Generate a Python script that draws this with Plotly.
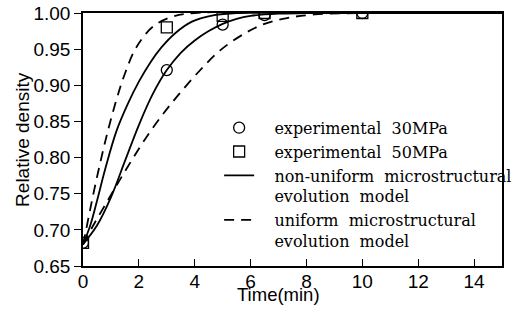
import plotly.graph_objects as go

# Experimental points
exp_t = [0, 3, 5, 6.5, 10]
exp30 = [0.682, 0.921, 0.984, 0.997, 1.0]
exp50 = [0.682, 0.980, 0.996, 1.0, 1.0]

# Non-uniform microstructural evolution model (solid)
nu30_t = [0, 0.5, 1.0, 1.5, 2.0, 2.5, 3.0, 3.5, 4.0, 4.5, 5.0, 5.5, 6.0, 7.0, 8.0, 10, 15]
nu30_v = [0.68, 0.706, 0.745, 0.795, 0.845, 0.888, 0.921, 0.945, 0.962, 0.975, 0.985, 0.992, 0.996, 0.999, 1.0, 1.0, 1.0]
nu50_t = [0, 0.25, 0.5, 0.8, 1.2, 1.6, 2.0, 2.4, 2.8, 3.3, 3.9, 4.7, 5.5, 7, 10, 15]
nu50_v = [0.68, 0.705, 0.74, 0.785, 0.837, 0.874, 0.905, 0.931, 0.952, 0.972, 0.988, 0.997, 1.0, 1.0, 1.0, 1.0]

# Uniform microstructural evolution model (dashed)
u50_t = [0, 0.1, 0.25, 0.4, 0.6, 0.8, 1.0, 1.25, 1.5, 1.9, 2.5, 3.2, 4.0, 15]
u50_v = [0.68, 0.698, 0.727, 0.755, 0.790, 0.823, 0.853, 0.887, 0.916, 0.952, 0.981, 0.995, 1.0, 1.0]
u30_t = [0, 0.35, 0.8, 1.27, 1.74, 2.3, 2.9, 3.4, 4.1, 4.9, 5.8, 6.5, 7.3, 8.3, 10, 15]
u30_v = [0.68, 0.705, 0.735, 0.766, 0.796, 0.830, 0.862, 0.886, 0.917, 0.948, 0.972, 0.985, 0.993, 0.998, 1.0, 1.0]

x_ticks = [0, 2, 4, 6, 8, 10, 12, 14]
y_ticks = [0.65, 0.70, 0.75, 0.80, 0.85, 0.90, 0.95, 1.00]

PAD = "\u00a0\u00a0\u00a0"
names = {
    "e30": PAD + "experimental\u00a0\u00a030MPa",
    "e50": PAD + "experimental\u00a0\u00a050MPa",
    "nu": PAD + "non-uniform\u00a0\u00a0microstructural<br>" + PAD + "evolution\u00a0\u00a0model",
    "u": PAD + "uniform\u00a0\u00a0microstructural<br>" + PAD + "evolution\u00a0\u00a0model",
}

fig = go.Figure()
solid = dict(color="black", width=1.8)
dashed = dict(color="black", width=1.8, dash="10px,7px")

fig.add_trace(go.Scatter(x=exp_t, y=exp30, mode="markers", name=names["e30"],
                         marker=dict(symbol="circle-open", size=11, color="black", line=dict(width=1.3))))
fig.add_trace(go.Scatter(x=exp_t, y=exp50, mode="markers", name=names["e50"],
                         marker=dict(symbol="square-open", size=11, color="black", line=dict(width=1.3))))
fig.add_trace(go.Scatter(x=nu30_t, y=nu30_v, mode="lines", name=names["nu"], line=dict(shape="spline", **solid)))
fig.add_trace(go.Scatter(x=nu50_t, y=nu50_v, mode="lines", showlegend=False, line=dict(shape="spline", **solid)))
fig.add_trace(go.Scatter(x=u50_t, y=u50_v, mode="lines", name=names["u"], line=dict(shape="spline", **dashed)))
fig.add_trace(go.Scatter(x=u30_t, y=u30_v, mode="lines", showlegend=False, line=dict(shape="spline", **dashed)))

# body margin is removed by the post script, so window pixels == figure pixels
W, H = 519, 311
plot_l, plot_r, plot_t, plot_b = 83, 517, 13, 266.5   # pixels of plot area
L, R, T, B = plot_l, W - plot_r, plot_t, H - plot_b
pw, ph = plot_r - plot_l, plot_b - plot_t


def px_x(wx):
    return (wx - plot_l) / pw


def px_y(wy):
    return (plot_b - wy) / ph


fig.update_layout(
    width=W, height=H,
    margin=dict(l=L, r=R, t=T, b=B),
    paper_bgcolor="white", plot_bgcolor="white",
    font=dict(family="Liberation Sans, Arial", size=19, color="black"),
    showlegend=True,
    legend=dict(x=px_x(224), y=px_y(111), xanchor="left", yanchor="top",
                font=dict(family="DejaVu Serif", size=16, color="black"),
                bgcolor="rgba(0,0,0,0)", itemwidth=30, tracegroupgap=0, valign="top"),
    xaxis=dict(range=[0, 15], tickvals=x_ticks, ticktext=[str(v) for v in x_ticks],
               ticks="inside", ticklen=7, tickcolor="black", showgrid=False, zeroline=False,
               showline=True, linecolor="black", linewidth=1.5, mirror=True, automargin=False,
               ticklabelstandoff=-3, ticklabeloverflow="allow"),
    yaxis=dict(range=[0.65, 1.0], tickvals=y_ticks, ticktext=[f"{v:.2f}" for v in y_ticks],
               ticks="outside", ticklen=7, tickcolor="black", showgrid=False, zeroline=False,
               showline=True, linecolor="black", linewidth=1.5, mirror=True, automargin=False,
               ticklabeloverflow="allow"),
    annotations=[
        dict(text="Time(min)", xref="paper", yref="paper", x=px_x(285), y=px_y(295),
             xanchor="center", yanchor="middle", showarrow=False, font=dict(size=18.5)),
        dict(text="Relative density", xref="paper", yref="paper", x=px_x(21), y=px_y(140),
             xanchor="center", yanchor="middle", textangle=-90, showarrow=False, font=dict(size=19)),
    ],
)

fig.write_html("out.html", config={"displayModeBar": False},
               post_script="document.body.style.margin='0';document.body.style.overflow='hidden';")
